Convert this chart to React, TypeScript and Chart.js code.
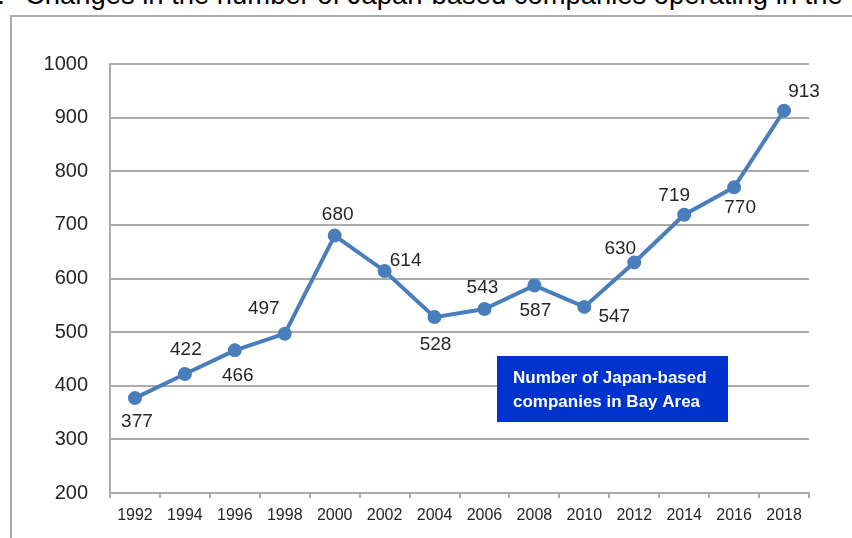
import React, { useEffect, useRef } from "react";
import { Chart, registerables } from "chart.js";

Chart.register(...registerables);

const years = ["1992", "1994", "1996", "1998", "2000", "2002", "2004", "2006", "2008", "2010", "2012", "2014", "2016", "2018"];
const companies = [377, 422, 466, 497, 680, 614, 528, 543, 587, 547, 630, 719, 770, 913];
// label offset from its point (dx, dy), in px
const labelDx = [2, 1, 3, -21, 3, 21, 1, -2, 1, 30, -14, -10, 6, 20];
const labelDy = [24, -24, 25, -25, -21, -10, 28, -21, 25, 10, -14, -19, 20, -19];
const legendLines = ["Number of Japan-based", "companies in Bay Area"];
const titleNumber = "1.";
const titleText = "Changes in the number of Japan-based companies operating in the Bay Area";

const FONT = "'Liberation Sans', Arial, sans-serif";
const LINE = "#4A7EBB";
const GRID = "#ABABAB";

const labelPlugin = {
  id: "pointLabels",
  afterDatasetsDraw(chart: any) {
    const ctx = chart.ctx;
    const meta = chart.getDatasetMeta(0);
    ctx.save();
    ctx.font = `19px ${FONT}`;
    ctx.fillStyle = "#262626";
    ctx.textAlign = "center";
    ctx.textBaseline = "middle";
    meta.data.forEach((pt: any, i: number) => {
      ctx.fillText(String(companies[i]), pt.x + labelDx[i], pt.y + labelDy[i]);
    });
    // legend box
    const ca = chart.chartArea;
    const bx = ca.left + 387;
    const by = ca.top + 292;
    ctx.fillStyle = "#0033CC";
    ctx.fillRect(bx, by, 231, 66);
    ctx.fillStyle = "#FFFFFF";
    ctx.font = `bold 17px ${FONT}`;
    ctx.textAlign = "left";
    legendLines.forEach((t, i) => ctx.fillText(t, bx + 16, by + 22 + i * 24));
    ctx.restore();
  },
};

export default function App() {
  const ref = useRef<HTMLCanvasElement>(null);
  useEffect(() => {
    document.body.style.margin = "0";
    const chart = new Chart(ref.current!, {
      type: "line",
      data: {
        labels: years,
        datasets: [
          {
            data: companies,
            borderColor: LINE,
            backgroundColor: LINE,
            borderWidth: 4,
            pointRadius: 5,
            pointBackgroundColor: LINE,
            pointBorderColor: LINE,
            tension: 0,
          },
        ],
      },
      options: {
        animation: false,
        responsive: false,
        layout: { padding: { left: 0, top: 64, right: 43, bottom: 0 } },
        plugins: { legend: { display: false }, tooltip: { enabled: false } },
        scales: {
          x: {
            offset: true,
            grid: { display: true, drawOnChartArea: false, drawTicks: true, tickLength: 5, color: GRID, lineWidth: 2, offset: true },
            border: { color: GRID, width: 2 },
            ticks: { color: "#262626", font: { family: FONT, size: 16 }, padding: 8, maxRotation: 0, autoSkip: false },
            afterFit(scale: any) {
              scale.height = 45;
            },
          },
          y: {
            min: 200,
            max: 1000,
            ticks: {
              stepSize: 100,
              color: "#262626",
              font: { family: FONT, size: 20 },
              padding: 22,
              callback: (v: any) => String(v),
            },
            grid: { color: GRID, lineWidth: 2, drawTicks: false },
            border: { color: GRID, width: 2 },
            afterFit(scale: any) {
              scale.width = 110;
            },
          },
        },
      },
      plugins: [labelPlugin],
    });
    return () => chart.destroy();
  }, []);

  const titleStyle: React.CSSProperties = {
    position: "absolute",
    top: -19,
    fontFamily: FONT,
    fontSize: 27.4,
    lineHeight: "28px",
    whiteSpace: "nowrap",
    color: "#000",
  };

  return (
    <div style={{ position: "relative", width: 852, height: 538, overflow: "hidden", background: "#fff" }}>
      <div style={{ ...titleStyle, left: -18 }}>{titleNumber}</div>
      <div style={{ ...titleStyle, left: 25 }}>{titleText}</div>
      <div
        style={{
          position: "absolute",
          left: 10,
          top: 15,
          width: 900,
          height: 600,
          border: "2px solid #ABABAB",
          boxSizing: "border-box",
        }}
      />
      <canvas ref={ref} width={852} height={538} style={{ position: "absolute", left: 0, top: 0 }} />
    </div>
  );
}
